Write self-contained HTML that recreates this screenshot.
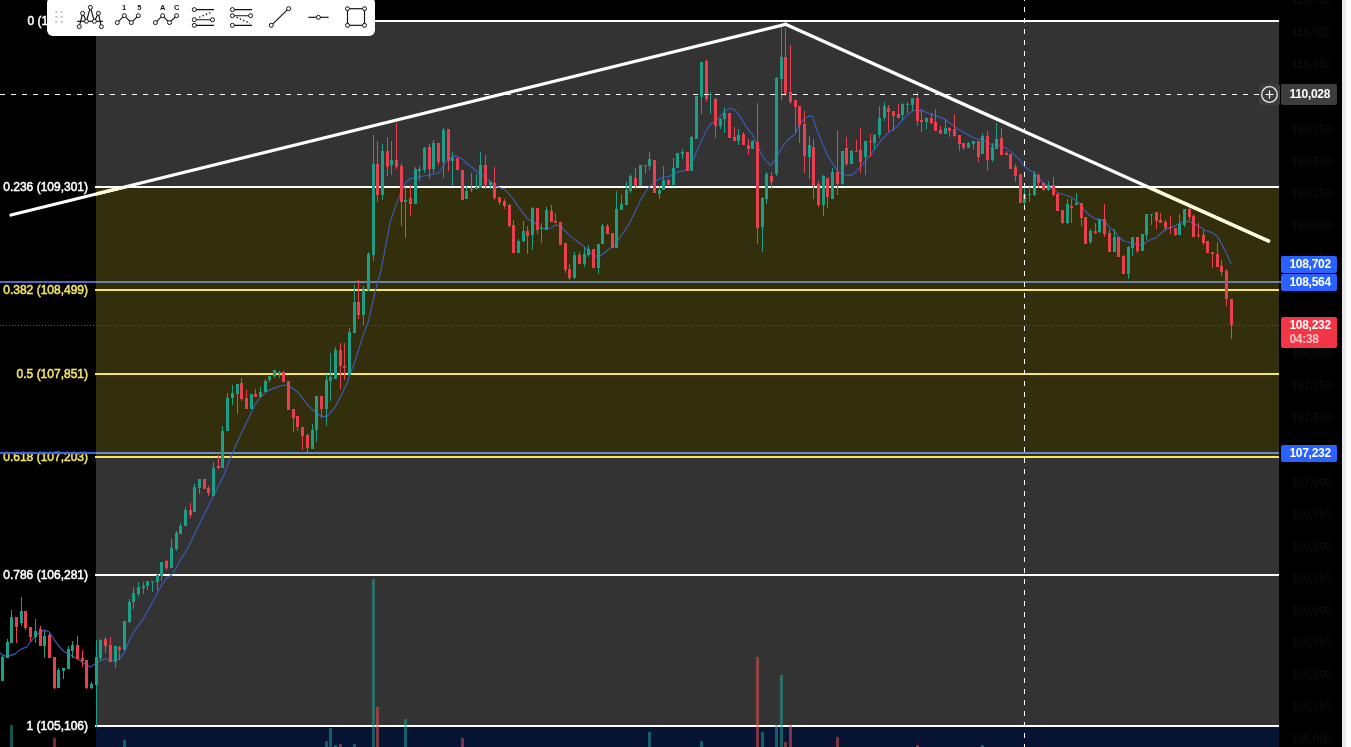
<!DOCTYPE html>
<html lang="en">
<head>
<meta charset="utf-8">
<title>Chart</title>
<style>
html,body{margin:0;padding:0;background:#fff;}
body{width:1351px;height:747px;overflow:hidden;position:relative;font-family:"Liberation Sans",sans-serif;}
#chart{position:absolute;left:0;top:0;width:1342px;height:747px;background:#000;overflow:hidden;}
#strip{position:absolute;left:1342px;top:0;width:4px;height:747px;background:#e9e9e9;}
.fill{position:absolute;left:96px;width:1183px;}
.ln{position:absolute;left:95px;width:1184px;height:2px;}
.lab{will-change:transform;position:absolute;left:0;width:88px;text-align:right;font-size:12px;line-height:14px;height:14px;color:#fff;white-space:nowrap;font-weight:400;-webkit-text-stroke:0.5px currentColor;}
.lab.y{color:#f5e663;-webkit-text-stroke:0.5px #f5e663;}
.ax{will-change:transform;position:absolute;left:1280px;width:63px;text-align:center;font-size:11px;line-height:14px;height:14px;color:#111;}
.pl{will-change:transform;position:absolute;left:1281px;width:56px;border-radius:2px;color:#fff;font-weight:700;font-size:12px;letter-spacing:-0.3px;box-sizing:border-box;padding-left:8.5px;}
#toolbar{position:absolute;left:47px;top:-3px;width:328px;height:38.6px;background:#fff;border-radius:6px;}
svg{position:absolute;left:0;top:0;}
</style>
</head>
<body>
<div id="chart">
  <!-- fib fills -->
  <div class="fill" style="top:21px;height:166px;background:#333333;"></div>
  <div class="fill" style="top:187px;height:270px;background:#332f0c;"></div>
  <div class="fill" style="top:457px;height:269px;background:#333333;"></div>
  <div class="fill" style="top:726px;height:21px;background:#081433;"></div>

  <!-- blue horizontal lines (under) -->
  <div style="position:absolute;left:0;top:281px;width:96px;height:2px;background:#5565c0;"></div>
  <div style="position:absolute;left:96px;top:281px;width:1185px;height:2px;background:#6d84a0;"></div>
  <div style="position:absolute;left:0;top:452px;width:96px;height:2px;background:#3c64eb;z-index:5;"></div>
  <div style="position:absolute;left:96px;top:452px;width:1183px;height:2px;background:#648cd7;"></div>

  <!-- fib lines -->
  <div class="ln" style="top:20px;background:#fff;"></div>
  <div class="ln" style="top:186px;background:#fff;"></div>
  <div class="ln" style="top:289px;background:#f7e75f;"></div>
  <div class="ln" style="top:373px;background:#f7e75f;"></div>
  <div class="ln" style="top:456px;background:#f7e75f;"></div>
  <div class="ln" style="top:574px;background:#fff;"></div>
  <div class="ln" style="top:725px;background:#fff;"></div>

  <svg width="1342" height="747" viewBox="0 0 1342 747" shape-rendering="crispEdges">
    <g id="vol">
<rect x="10" y="725.0" width="3" height="22.0" fill="rgba(38,166,154,0.5)"/>
<rect x="53" y="738.0" width="3" height="9.0" fill="rgba(239,83,80,0.5)"/>
<rect x="123" y="740.0" width="3" height="7.0" fill="rgba(38,166,154,0.5)"/>
<rect x="325" y="741.0" width="3" height="6.0" fill="rgba(38,166,154,0.5)"/>
<rect x="329" y="728.0" width="3" height="19.0" fill="rgba(38,166,154,0.5)"/>
<rect x="334" y="745.0" width="3" height="2.0" fill="rgba(38,166,154,0.5)"/>
<rect x="339" y="744.0" width="3" height="3.0" fill="rgba(239,83,80,0.5)"/>
<rect x="353" y="744.0" width="3" height="3.0" fill="rgba(38,166,154,0.5)"/>
<rect x="372" y="578.7" width="3" height="168.3" fill="rgba(38,166,154,0.5)"/>
<rect x="376" y="707.0" width="3" height="40.0" fill="rgba(239,83,80,0.5)"/>
<rect x="404" y="718.8" width="3" height="28.2" fill="rgba(38,166,154,0.5)"/>
<rect x="461" y="738.0" width="3" height="9.0" fill="rgba(239,83,80,0.5)"/>
<rect x="648" y="732.0" width="3" height="15.0" fill="rgba(38,166,154,0.5)"/>
<rect x="700" y="741.0" width="3" height="6.0" fill="rgba(38,166,154,0.5)"/>
<rect x="756" y="657.4" width="3" height="89.6" fill="rgba(239,83,80,0.5)"/>
<rect x="761" y="732.0" width="3" height="15.0" fill="rgba(38,166,154,0.5)"/>
<rect x="775" y="725.0" width="3" height="22.0" fill="rgba(38,166,154,0.5)"/>
<rect x="780" y="675.2" width="3" height="71.8" fill="rgba(38,166,154,0.5)"/>
<rect x="784" y="742.0" width="3" height="5.0" fill="rgba(239,83,80,0.5)"/>
<rect x="789" y="724.6" width="3" height="22.4" fill="rgba(239,83,80,0.5)"/>
<rect x="836" y="737.4" width="3" height="9.6" fill="rgba(239,83,80,0.5)"/>
<rect x="916" y="745.0" width="3" height="2.0" fill="rgba(239,83,80,0.5)"/>
<rect x="981" y="745.0" width="3" height="2.0" fill="rgba(38,166,154,0.5)"/>
    </g>
    <g shape-rendering="auto">
<path d="M0.0,652.6 L2.5,655.1 L7.4,656.6 L14.7,653.9 L21.5,648.9 L26.5,647.1 L30.5,642.0 L35.3,635.9 L40.2,632.0 L44.5,630.1 L49.3,632.0 L54.5,640.1 L58.6,646.0 L63.5,651.0 L68.5,654.1 L72.5,656.0 L77.5,658.9 L82.5,662.2 L86.5,665.1 L90.6,667.0 L96.5,662.9 L100.0,661.0 L101.4,660.3 L105.6,658.7 L110.4,660.3 L115.4,660.6 L119.4,658.7 L124.5,652.3 L129.4,640.2 L133.4,632.2 L138.4,625.7 L143.4,618.5 L147.4,611.3 L152.4,602.4 L157.3,592.8 L162.3,583.9 L166.5,578.3 L171.8,574.7 L176.3,567.5 L180.8,559.3 L185.5,552.1 L190.4,543.1 L194.4,534.0 L199.4,524.1 L204.3,514.1 L208.5,506.0 L224.2,474.6 L227.2,465.4 L232.3,453.7 L237.3,442.0 L241.3,433.6 L246.3,422.7 L251.3,412.7 L255.3,404.3 L260.4,397.2 L265.4,392.6 L269.4,390.1 L274.4,388.1 L279.1,386.5 L283.4,385.1 L288.0,385.3 L293.4,389.0 L298.3,392.7 L302.3,397.9 L307.3,404.5 L312.4,409.6 L316.4,413.0 L321.4,416.3 L326.4,416.3 L330.6,412.6 L335.4,406.7 L346.5,384.6 L349.5,376.2 L354.5,362.3 L358.5,350.0 L363.4,334.6 L368.5,320.8 L373.4,299.2 L377.2,283.8 L381.1,270.0 L385.9,244.6 L390.1,222.0 L396.5,203.6 L401.3,191.9 L405.5,182.7 L410.5,178.2 L415.4,178.5 L419.4,176.9 L424.4,175.7 L429.4,175.2 L434.4,174.0 L438.4,173.2 L443.4,166.0 L445.0,162.6 L448.3,160.1 L452.5,156.4 L457.5,156.4 L462.6,159.2 L466.4,163.4 L471.4,166.8 L476.4,171.0 L480.5,173.5 L485.5,177.6 L490.5,181.8 L494.5,185.2 L499.5,187.7 L504.4,189.3 L509.4,194.4 L513.4,199.4 L518.4,206.9 L523.4,213.6 L527.4,218.6 L532.5,222.0 L535.0,222.7 L537.5,226.0 L541.7,228.2 L546.4,228.9 L551.4,227.7 L555.4,224.9 L560.4,226.0 L565.4,231.1 L570.3,236.1 L574.5,239.4 L579.3,242.8 L584.3,246.9 L588.5,250.6 L593.5,255.3 L598.4,257.0 L602.4,254.5 L607.4,250.3 L612.4,246.9 L616.4,243.3 L621.5,235.2 L628.7,224.6 L635.4,211.2 L640.4,200.3 L645.4,192.0 L649.4,186.6 L654.4,181.9 L659.5,178.6 L663.5,177.3 L668.5,176.6 L673.5,174.4 L677.5,171.9 L682.5,171.1 L685.0,170.4 L691.7,163.7 L696.4,152.0 L701.4,141.1 L706.4,130.3 L710.4,124.4 L715.4,121.1 L720.5,116.1 L724.5,111.0 L729.5,108.5 L734.3,109.4 L738.5,114.4 L743.4,121.9 L748.3,130.0 L752.4,134.4 L757.4,145.9 L762.4,155.9 L766.4,161.8 L770.9,165.6 L774.3,160.9 L778.4,153.4 L784.3,144.2 L790.5,137.5 L795.2,134.2 L799.3,124.5 L804.4,118.6 L809.4,116.1 L812.7,116.6 L816.9,130.0 L822.8,144.2 L827.4,155.1 L832.5,163.4 L835.0,166.9 L837.5,171.1 L842.4,174.5 L846.4,175.3 L851.4,175.3 L856.4,171.1 L860.4,166.9 L865.4,161.1 L870.5,155.2 L874.5,149.4 L879.5,142.7 L884.3,136.8 L888.5,132.7 L893.4,129.3 L898.4,125.1 L902.4,120.1 L907.4,115.1 L912.4,110.9 L917.4,110.1 L921.5,110.4 L925.0,111.8 L931.4,114.3 L935.5,115.6 L940.6,117.6 L945.4,119.8 L949.6,123.1 L954.6,126.5 L959.6,130.2 L963.6,132.3 L968.5,135.2 L973.5,137.7 L978.5,139.3 L982.5,139.3 L987.5,142.4 L992.4,144.9 L996.6,145.5 L1001.6,146.0 L1006.4,148.2 L1010.6,151.1 L1015.5,156.1 L1020.0,160.0 L1024.5,166.7 L1029.5,170.0 L1034.6,173.4 L1038.6,178.4 L1043.4,182.6 L1048.4,186.8 L1053.5,189.3 L1057.6,192.6 L1062.5,194.3 L1067.5,195.5 L1071.5,197.6 L1076.5,201.0 L1081.6,205.2 L1085.6,211.8 L1090.6,216.0 L1095.6,218.9 L1099.6,219.4 L1104.5,221.0 L1109.5,227.6 L1114.5,231.0 L1118.4,236.5 L1123.4,241.0 L1128.4,242.2 L1132.4,243.5 L1137.4,244.8 L1142.5,245.2 L1146.5,241.8 L1151.5,239.3 L1156.5,237.6 L1160.5,233.5 L1165.5,229.3 L1170.6,227.6 L1174.6,225.9 L1179.4,223.4 L1184.4,221.4 L1189.4,221.4 L1193.5,223.4 L1198.5,225.9 L1204.6,230.0 L1213.1,233.1 L1217.7,236.9 L1221.5,243.8 L1226.2,253.1 L1231.2,263.8" fill="none" stroke="#3b5bba" stroke-width="1.15" stroke-linejoin="round"/>
    </g>
    <g id="candles">
<rect x="2" y="656.0" width="1" height="25.0" fill="#1f9e87"/>
<rect x="1" y="657.0" width="3" height="23.6" fill="#1f9e87"/>
<rect x="7" y="639.0" width="1" height="18.7" fill="#1f9e87"/>
<rect x="6" y="641.5" width="3" height="16.2" fill="#1f9e87"/>
<rect x="11" y="609.9" width="1" height="32.7" fill="#1f9e87"/>
<rect x="10" y="617.0" width="3" height="25.6" fill="#1f9e87"/>
<rect x="16" y="617.0" width="1" height="25.6" fill="#ea3f4e"/>
<rect x="15" y="617.0" width="3" height="10.3" fill="#ea3f4e"/>
<rect x="21" y="596.9" width="1" height="28.9" fill="#1f9e87"/>
<rect x="20" y="611.1" width="3" height="11.6" fill="#1f9e87"/>
<rect x="25" y="611.1" width="1" height="18.7" fill="#ea3f4e"/>
<rect x="24" y="611.1" width="3" height="16.7" fill="#ea3f4e"/>
<rect x="30" y="627.1" width="1" height="14.4" fill="#ea3f4e"/>
<rect x="29" y="627.1" width="3" height="9.7" fill="#ea3f4e"/>
<rect x="35" y="619.0" width="1" height="23.7" fill="#1f9e87"/>
<rect x="34" y="631.2" width="3" height="5.6" fill="#1f9e87"/>
<rect x="40" y="626.1" width="1" height="19.6" fill="#ea3f4e"/>
<rect x="39" y="629.0" width="3" height="16.7" fill="#ea3f4e"/>
<rect x="44" y="630.5" width="1" height="27.2" fill="#1f9e87"/>
<rect x="43" y="636.1" width="3" height="9.9" fill="#1f9e87"/>
<rect x="49" y="632.7" width="1" height="25.0" fill="#ea3f4e"/>
<rect x="48" y="634.9" width="3" height="22.8" fill="#ea3f4e"/>
<rect x="54" y="657.0" width="1" height="31.7" fill="#ea3f4e"/>
<rect x="53" y="657.0" width="3" height="30.9" fill="#ea3f4e"/>
<rect x="58" y="668.1" width="1" height="19.5" fill="#1f9e87"/>
<rect x="57" y="670.0" width="3" height="17.6" fill="#1f9e87"/>
<rect x="63" y="668.1" width="1" height="10.7" fill="#1f9e87"/>
<rect x="62" y="668.1" width="3" height="2.9" fill="#1f9e87"/>
<rect x="68" y="646.0" width="1" height="22.8" fill="#1f9e87"/>
<rect x="67" y="649.2" width="3" height="19.6" fill="#1f9e87"/>
<rect x="72" y="641.1" width="1" height="16.6" fill="#1f9e87"/>
<rect x="71" y="644.9" width="3" height="5.8" fill="#1f9e87"/>
<rect x="77" y="636.1" width="1" height="22.4" fill="#ea3f4e"/>
<rect x="76" y="644.9" width="3" height="13.6" fill="#ea3f4e"/>
<rect x="82" y="649.9" width="1" height="16.7" fill="#ea3f4e"/>
<rect x="81" y="658.0" width="3" height="2.7" fill="#ea3f4e"/>
<rect x="86" y="660.0" width="1" height="28.7" fill="#ea3f4e"/>
<rect x="85" y="660.0" width="3" height="28.4" fill="#ea3f4e"/>
<rect x="91" y="682.0" width="1" height="7.0" fill="#1f9e87"/>
<rect x="90" y="684.3" width="3" height="4.1" fill="#1f9e87"/>
<rect x="96" y="640.1" width="1" height="86.9" fill="#1f9e87"/>
<rect x="95" y="657.0" width="3" height="27.7" fill="#1f9e87"/>
<rect x="100" y="639.4" width="1" height="21.7" fill="#1f9e87"/>
<rect x="99" y="640.2" width="3" height="17.7" fill="#1f9e87"/>
<rect x="105" y="636.7" width="1" height="16.4" fill="#ea3f4e"/>
<rect x="104" y="638.6" width="3" height="7.2" fill="#ea3f4e"/>
<rect x="110" y="637.0" width="1" height="24.9" fill="#ea3f4e"/>
<rect x="109" y="645.4" width="3" height="16.5" fill="#ea3f4e"/>
<rect x="115" y="646.3" width="1" height="21.7" fill="#1f9e87"/>
<rect x="114" y="646.3" width="3" height="15.3" fill="#1f9e87"/>
<rect x="119" y="645.8" width="1" height="13.7" fill="#ea3f4e"/>
<rect x="118" y="647.0" width="3" height="2.9" fill="#ea3f4e"/>
<rect x="124" y="620.9" width="1" height="29.0" fill="#1f9e87"/>
<rect x="123" y="620.9" width="3" height="29.0" fill="#1f9e87"/>
<rect x="129" y="598.7" width="1" height="24.6" fill="#1f9e87"/>
<rect x="128" y="601.6" width="3" height="20.6" fill="#1f9e87"/>
<rect x="133" y="587.2" width="1" height="21.7" fill="#1f9e87"/>
<rect x="132" y="592.8" width="3" height="9.1" fill="#1f9e87"/>
<rect x="138" y="582.0" width="1" height="15.1" fill="#1f9e87"/>
<rect x="137" y="587.2" width="3" height="6.9" fill="#1f9e87"/>
<rect x="143" y="582.0" width="1" height="12.1" fill="#1f9e87"/>
<rect x="142" y="586.0" width="3" height="2.0" fill="#1f9e87"/>
<rect x="147" y="580.7" width="1" height="8.9" fill="#1f9e87"/>
<rect x="146" y="581.2" width="3" height="4.8" fill="#1f9e87"/>
<rect x="152" y="580.7" width="1" height="11.0" fill="#1f9e87"/>
<rect x="151" y="581.2" width="3" height="1.1" fill="#1f9e87"/>
<rect x="157" y="574.0" width="1" height="15.6" fill="#1f9e87"/>
<rect x="156" y="574.6" width="3" height="7.7" fill="#1f9e87"/>
<rect x="161" y="562.1" width="1" height="18.9" fill="#1f9e87"/>
<rect x="160" y="562.1" width="3" height="13.5" fill="#1f9e87"/>
<rect x="166" y="560.3" width="1" height="9.5" fill="#ea3f4e"/>
<rect x="165" y="561.2" width="3" height="6.3" fill="#ea3f4e"/>
<rect x="171" y="539.1" width="1" height="28.4" fill="#1f9e87"/>
<rect x="170" y="548.1" width="3" height="19.4" fill="#1f9e87"/>
<rect x="176" y="531.0" width="1" height="19.7" fill="#1f9e87"/>
<rect x="175" y="533.1" width="3" height="15.4" fill="#1f9e87"/>
<rect x="180" y="523.2" width="1" height="10.5" fill="#1f9e87"/>
<rect x="179" y="525.5" width="3" height="8.2" fill="#1f9e87"/>
<rect x="185" y="506.5" width="1" height="19.0" fill="#1f9e87"/>
<rect x="184" y="509.6" width="3" height="15.9" fill="#1f9e87"/>
<rect x="190" y="503.3" width="1" height="14.5" fill="#ea3f4e"/>
<rect x="189" y="509.6" width="3" height="5.4" fill="#ea3f4e"/>
<rect x="194" y="483.9" width="1" height="27.9" fill="#1f9e87"/>
<rect x="193" y="486.7" width="3" height="25.1" fill="#1f9e87"/>
<rect x="199" y="478.9" width="1" height="15.3" fill="#1f9e87"/>
<rect x="198" y="478.9" width="3" height="9.0" fill="#1f9e87"/>
<rect x="204" y="478.9" width="1" height="10.5" fill="#ea3f4e"/>
<rect x="203" y="478.9" width="3" height="10.5" fill="#ea3f4e"/>
<rect x="208" y="486.1" width="1" height="10.3" fill="#ea3f4e"/>
<rect x="207" y="487.6" width="3" height="5.2" fill="#ea3f4e"/>
<rect x="213" y="462.0" width="1" height="33.7" fill="#1f9e87"/>
<rect x="212" y="467.6" width="3" height="28.1" fill="#1f9e87"/>
<rect x="218" y="455.0" width="1" height="13.7" fill="#ea3f4e"/>
<rect x="217" y="466.2" width="3" height="1.7" fill="#ea3f4e"/>
<rect x="222" y="426.1" width="1" height="41.8" fill="#1f9e87"/>
<rect x="221" y="430.8" width="3" height="37.1" fill="#1f9e87"/>
<rect x="227" y="393.0" width="1" height="37.8" fill="#1f9e87"/>
<rect x="226" y="397.7" width="3" height="33.1" fill="#1f9e87"/>
<rect x="232" y="384.8" width="1" height="19.9" fill="#1f9e87"/>
<rect x="231" y="393.0" width="3" height="5.0" fill="#1f9e87"/>
<rect x="237" y="383.9" width="1" height="29.6" fill="#1f9e87"/>
<rect x="236" y="383.9" width="3" height="9.9" fill="#1f9e87"/>
<rect x="241" y="378.1" width="1" height="22.6" fill="#ea3f4e"/>
<rect x="240" y="383.4" width="3" height="15.9" fill="#ea3f4e"/>
<rect x="246" y="390.1" width="1" height="18.4" fill="#ea3f4e"/>
<rect x="245" y="398.0" width="3" height="10.5" fill="#ea3f4e"/>
<rect x="251" y="394.0" width="1" height="14.5" fill="#1f9e87"/>
<rect x="250" y="394.0" width="3" height="14.5" fill="#1f9e87"/>
<rect x="255" y="389.0" width="1" height="7.8" fill="#ea3f4e"/>
<rect x="254" y="394.0" width="3" height="2.8" fill="#ea3f4e"/>
<rect x="260" y="387.3" width="1" height="9.5" fill="#1f9e87"/>
<rect x="259" y="391.8" width="3" height="5.0" fill="#1f9e87"/>
<rect x="265" y="378.8" width="1" height="13.0" fill="#1f9e87"/>
<rect x="264" y="381.4" width="3" height="10.4" fill="#1f9e87"/>
<rect x="269" y="376.3" width="1" height="5.5" fill="#1f9e87"/>
<rect x="268" y="376.3" width="3" height="3.8" fill="#1f9e87"/>
<rect x="274" y="370.1" width="1" height="8.3" fill="#1f9e87"/>
<rect x="273" y="370.1" width="3" height="5.8" fill="#1f9e87"/>
<rect x="279" y="370.9" width="1" height="6.7" fill="#1f9e87"/>
<rect x="278" y="372.2" width="3" height="2.0" fill="#1f9e87"/>
<rect x="283" y="371.4" width="1" height="10.9" fill="#ea3f4e"/>
<rect x="282" y="372.2" width="3" height="10.1" fill="#ea3f4e"/>
<rect x="288" y="380.9" width="1" height="28.7" fill="#ea3f4e"/>
<rect x="287" y="380.9" width="3" height="28.7" fill="#ea3f4e"/>
<rect x="293" y="408.9" width="1" height="22.8" fill="#ea3f4e"/>
<rect x="292" y="408.9" width="3" height="8.8" fill="#ea3f4e"/>
<rect x="297" y="416.3" width="1" height="14.4" fill="#ea3f4e"/>
<rect x="296" y="416.3" width="3" height="10.3" fill="#ea3f4e"/>
<rect x="302" y="426.9" width="1" height="23.2" fill="#ea3f4e"/>
<rect x="301" y="426.9" width="3" height="9.0" fill="#ea3f4e"/>
<rect x="307" y="433.9" width="1" height="17.7" fill="#ea3f4e"/>
<rect x="306" y="434.7" width="3" height="13.2" fill="#ea3f4e"/>
<rect x="312" y="424.4" width="1" height="24.3" fill="#1f9e87"/>
<rect x="311" y="429.5" width="3" height="19.2" fill="#1f9e87"/>
<rect x="316" y="396.4" width="1" height="45.6" fill="#1f9e87"/>
<rect x="315" y="396.4" width="3" height="33.9" fill="#1f9e87"/>
<rect x="321" y="396.4" width="1" height="21.3" fill="#ea3f4e"/>
<rect x="320" y="396.4" width="3" height="12.5" fill="#ea3f4e"/>
<rect x="326" y="374.3" width="1" height="51.5" fill="#1f9e87"/>
<rect x="325" y="380.2" width="3" height="28.7" fill="#1f9e87"/>
<rect x="330" y="353.1" width="1" height="47.7" fill="#1f9e87"/>
<rect x="329" y="376.9" width="3" height="3.9" fill="#1f9e87"/>
<rect x="335" y="346.9" width="1" height="32.3" fill="#1f9e87"/>
<rect x="334" y="349.7" width="3" height="29.5" fill="#1f9e87"/>
<rect x="340" y="343.1" width="1" height="45.5" fill="#ea3f4e"/>
<rect x="339" y="349.7" width="3" height="16.0" fill="#ea3f4e"/>
<rect x="344" y="343.1" width="1" height="36.9" fill="#ea3f4e"/>
<rect x="343" y="365.7" width="3" height="2.3" fill="#ea3f4e"/>
<rect x="349" y="328.2" width="1" height="46.4" fill="#1f9e87"/>
<rect x="348" y="331.5" width="3" height="43.1" fill="#1f9e87"/>
<rect x="354" y="284.9" width="1" height="47.9" fill="#1f9e87"/>
<rect x="353" y="301.5" width="3" height="31.3" fill="#1f9e87"/>
<rect x="358" y="280.0" width="1" height="38.9" fill="#ea3f4e"/>
<rect x="357" y="301.8" width="3" height="13.1" fill="#ea3f4e"/>
<rect x="363" y="285.8" width="1" height="39.3" fill="#1f9e87"/>
<rect x="362" y="290.0" width="3" height="24.9" fill="#1f9e87"/>
<rect x="368" y="251.9" width="1" height="39.5" fill="#1f9e87"/>
<rect x="367" y="253.5" width="3" height="36.3" fill="#1f9e87"/>
<rect x="373" y="135.1" width="1" height="125.4" fill="#1f9e87"/>
<rect x="372" y="163.8" width="3" height="90.8" fill="#1f9e87"/>
<rect x="377" y="140.9" width="1" height="61.0" fill="#ea3f4e"/>
<rect x="376" y="163.8" width="3" height="30.9" fill="#ea3f4e"/>
<rect x="382" y="144.2" width="1" height="55.7" fill="#1f9e87"/>
<rect x="381" y="150.9" width="3" height="43.8" fill="#1f9e87"/>
<rect x="387" y="136.7" width="1" height="39.3" fill="#ea3f4e"/>
<rect x="386" y="150.9" width="3" height="15.9" fill="#ea3f4e"/>
<rect x="391" y="140.9" width="1" height="33.9" fill="#1f9e87"/>
<rect x="390" y="159.8" width="3" height="5.0" fill="#1f9e87"/>
<rect x="396" y="122.5" width="1" height="46.3" fill="#ea3f4e"/>
<rect x="395" y="159.8" width="3" height="7.0" fill="#ea3f4e"/>
<rect x="401" y="162.6" width="1" height="63.1" fill="#ea3f4e"/>
<rect x="400" y="166.0" width="3" height="35.9" fill="#ea3f4e"/>
<rect x="405" y="186.9" width="1" height="51.0" fill="#1f9e87"/>
<rect x="404" y="199.9" width="3" height="2.0" fill="#1f9e87"/>
<rect x="410" y="185.2" width="1" height="30.5" fill="#ea3f4e"/>
<rect x="409" y="197.8" width="3" height="5.8" fill="#ea3f4e"/>
<rect x="415" y="167.2" width="1" height="36.4" fill="#1f9e87"/>
<rect x="414" y="169.3" width="3" height="34.3" fill="#1f9e87"/>
<rect x="419" y="166.0" width="1" height="14.5" fill="#1f9e87"/>
<rect x="418" y="168.5" width="3" height="2.0" fill="#1f9e87"/>
<rect x="424" y="146.8" width="1" height="25.9" fill="#1f9e87"/>
<rect x="423" y="147.6" width="3" height="22.2" fill="#1f9e87"/>
<rect x="429" y="143.9" width="1" height="34.6" fill="#ea3f4e"/>
<rect x="428" y="146.8" width="3" height="22.0" fill="#ea3f4e"/>
<rect x="433" y="140.4" width="1" height="32.8" fill="#1f9e87"/>
<rect x="432" y="142.6" width="3" height="25.9" fill="#1f9e87"/>
<rect x="438" y="142.9" width="1" height="21.9" fill="#ea3f4e"/>
<rect x="437" y="142.9" width="3" height="18.9" fill="#ea3f4e"/>
<rect x="443" y="127.5" width="1" height="50.2" fill="#1f9e87"/>
<rect x="442" y="129.7" width="3" height="32.1" fill="#1f9e87"/>
<rect x="448" y="144.2" width="1" height="26.8" fill="#ea3f4e"/>
<rect x="447" y="129.1" width="3" height="31.8" fill="#ea3f4e"/>
<rect x="452" y="151.7" width="1" height="34.3" fill="#1f9e87"/>
<rect x="451" y="157.9" width="3" height="2.7" fill="#1f9e87"/>
<rect x="457" y="158.1" width="1" height="11.7" fill="#ea3f4e"/>
<rect x="456" y="158.1" width="3" height="11.7" fill="#ea3f4e"/>
<rect x="462" y="169.8" width="1" height="30.1" fill="#ea3f4e"/>
<rect x="461" y="169.8" width="3" height="30.1" fill="#ea3f4e"/>
<rect x="466" y="186.0" width="1" height="13.4" fill="#1f9e87"/>
<rect x="465" y="191.0" width="3" height="8.4" fill="#1f9e87"/>
<rect x="471" y="173.1" width="1" height="18.8" fill="#1f9e87"/>
<rect x="470" y="188.5" width="3" height="1.3" fill="#1f9e87"/>
<rect x="476" y="173.8" width="1" height="15.5" fill="#1f9e87"/>
<rect x="475" y="187.3" width="3" height="2.0" fill="#1f9e87"/>
<rect x="480" y="151.7" width="1" height="36.0" fill="#1f9e87"/>
<rect x="479" y="165.1" width="3" height="22.6" fill="#1f9e87"/>
<rect x="485" y="154.7" width="1" height="33.8" fill="#ea3f4e"/>
<rect x="484" y="165.1" width="3" height="19.7" fill="#ea3f4e"/>
<rect x="490" y="181.0" width="1" height="8.3" fill="#1f9e87"/>
<rect x="489" y="181.8" width="3" height="3.0" fill="#1f9e87"/>
<rect x="494" y="167.1" width="1" height="32.8" fill="#ea3f4e"/>
<rect x="493" y="183.2" width="3" height="15.0" fill="#ea3f4e"/>
<rect x="499" y="196.5" width="1" height="8.4" fill="#ea3f4e"/>
<rect x="498" y="197.2" width="3" height="5.0" fill="#ea3f4e"/>
<rect x="504" y="199.0" width="1" height="9.6" fill="#ea3f4e"/>
<rect x="503" y="201.1" width="3" height="5.0" fill="#ea3f4e"/>
<rect x="509" y="204.1" width="1" height="22.9" fill="#ea3f4e"/>
<rect x="508" y="204.9" width="3" height="21.2" fill="#ea3f4e"/>
<rect x="513" y="220.3" width="1" height="32.6" fill="#ea3f4e"/>
<rect x="512" y="225.0" width="3" height="27.9" fill="#ea3f4e"/>
<rect x="518" y="238.7" width="1" height="14.2" fill="#1f9e87"/>
<rect x="517" y="240.7" width="3" height="12.2" fill="#1f9e87"/>
<rect x="523" y="221.1" width="1" height="20.9" fill="#1f9e87"/>
<rect x="522" y="231.2" width="3" height="10.0" fill="#1f9e87"/>
<rect x="527" y="226.1" width="1" height="27.6" fill="#ea3f4e"/>
<rect x="526" y="231.2" width="3" height="4.6" fill="#ea3f4e"/>
<rect x="532" y="206.9" width="1" height="42.6" fill="#1f9e87"/>
<rect x="531" y="207.7" width="3" height="27.6" fill="#1f9e87"/>
<rect x="537" y="208.1" width="1" height="25.5" fill="#ea3f4e"/>
<rect x="536" y="208.1" width="3" height="22.1" fill="#ea3f4e"/>
<rect x="541" y="222.7" width="1" height="20.1" fill="#1f9e87"/>
<rect x="540" y="227.7" width="3" height="1.7" fill="#1f9e87"/>
<rect x="546" y="206.8" width="1" height="23.1" fill="#1f9e87"/>
<rect x="545" y="209.8" width="3" height="20.1" fill="#1f9e87"/>
<rect x="551" y="205.1" width="1" height="16.8" fill="#ea3f4e"/>
<rect x="550" y="211.0" width="3" height="10.9" fill="#ea3f4e"/>
<rect x="555" y="212.7" width="1" height="10.0" fill="#ea3f4e"/>
<rect x="554" y="221.0" width="3" height="1.7" fill="#ea3f4e"/>
<rect x="560" y="221.9" width="1" height="23.0" fill="#ea3f4e"/>
<rect x="559" y="221.9" width="3" height="23.0" fill="#ea3f4e"/>
<rect x="565" y="243.3" width="1" height="29.6" fill="#ea3f4e"/>
<rect x="564" y="243.3" width="3" height="27.1" fill="#ea3f4e"/>
<rect x="569" y="263.7" width="1" height="15.8" fill="#ea3f4e"/>
<rect x="568" y="268.7" width="3" height="9.7" fill="#ea3f4e"/>
<rect x="574" y="252.0" width="1" height="26.7" fill="#1f9e87"/>
<rect x="573" y="254.5" width="3" height="23.9" fill="#1f9e87"/>
<rect x="579" y="252.0" width="1" height="11.7" fill="#ea3f4e"/>
<rect x="578" y="254.5" width="3" height="9.2" fill="#ea3f4e"/>
<rect x="584" y="246.9" width="1" height="19.8" fill="#1f9e87"/>
<rect x="583" y="254.0" width="3" height="9.7" fill="#1f9e87"/>
<rect x="588" y="244.9" width="1" height="11.7" fill="#1f9e87"/>
<rect x="587" y="248.6" width="3" height="5.9" fill="#1f9e87"/>
<rect x="593" y="248.6" width="1" height="19.2" fill="#ea3f4e"/>
<rect x="592" y="248.6" width="3" height="19.2" fill="#ea3f4e"/>
<rect x="598" y="244.1" width="1" height="29.6" fill="#1f9e87"/>
<rect x="597" y="244.1" width="3" height="23.7" fill="#1f9e87"/>
<rect x="602" y="223.9" width="1" height="19.7" fill="#1f9e87"/>
<rect x="601" y="225.5" width="3" height="18.1" fill="#1f9e87"/>
<rect x="607" y="223.9" width="1" height="9.7" fill="#ea3f4e"/>
<rect x="606" y="225.5" width="3" height="8.1" fill="#ea3f4e"/>
<rect x="612" y="232.7" width="1" height="15.1" fill="#ea3f4e"/>
<rect x="611" y="232.7" width="3" height="15.1" fill="#ea3f4e"/>
<rect x="616" y="190.9" width="1" height="56.9" fill="#1f9e87"/>
<rect x="615" y="208.5" width="3" height="39.3" fill="#1f9e87"/>
<rect x="621" y="194.3" width="1" height="15.5" fill="#1f9e87"/>
<rect x="620" y="203.8" width="3" height="6.0" fill="#1f9e87"/>
<rect x="626" y="181.9" width="1" height="23.1" fill="#1f9e87"/>
<rect x="625" y="190.0" width="3" height="15.0" fill="#1f9e87"/>
<rect x="630" y="174.4" width="1" height="18.4" fill="#1f9e87"/>
<rect x="629" y="175.8" width="3" height="15.3" fill="#1f9e87"/>
<rect x="635" y="167.7" width="1" height="20.9" fill="#ea3f4e"/>
<rect x="634" y="177.8" width="3" height="8.3" fill="#ea3f4e"/>
<rect x="640" y="164.9" width="1" height="21.2" fill="#1f9e87"/>
<rect x="639" y="164.9" width="3" height="21.2" fill="#1f9e87"/>
<rect x="645" y="164.9" width="1" height="9.5" fill="#1f9e87"/>
<rect x="644" y="164.9" width="3" height="1.0" fill="#1f9e87"/>
<rect x="649" y="152.2" width="1" height="18.0" fill="#1f9e87"/>
<rect x="648" y="159.0" width="3" height="6.7" fill="#1f9e87"/>
<rect x="654" y="160.2" width="1" height="32.6" fill="#ea3f4e"/>
<rect x="653" y="160.2" width="3" height="32.6" fill="#ea3f4e"/>
<rect x="659" y="186.1" width="1" height="12.6" fill="#1f9e87"/>
<rect x="658" y="190.0" width="3" height="3.6" fill="#1f9e87"/>
<rect x="663" y="166.1" width="1" height="23.7" fill="#1f9e87"/>
<rect x="662" y="179.9" width="3" height="9.9" fill="#1f9e87"/>
<rect x="668" y="178.9" width="1" height="6.0" fill="#ea3f4e"/>
<rect x="667" y="179.9" width="3" height="5.0" fill="#ea3f4e"/>
<rect x="673" y="157.7" width="1" height="27.2" fill="#1f9e87"/>
<rect x="672" y="167.7" width="3" height="17.2" fill="#1f9e87"/>
<rect x="677" y="153.2" width="1" height="15.0" fill="#1f9e87"/>
<rect x="676" y="153.2" width="3" height="15.0" fill="#1f9e87"/>
<rect x="682" y="149.0" width="1" height="9.5" fill="#1f9e87"/>
<rect x="681" y="151.8" width="3" height="2.0" fill="#1f9e87"/>
<rect x="687" y="152.0" width="1" height="19.2" fill="#ea3f4e"/>
<rect x="686" y="152.0" width="3" height="19.2" fill="#ea3f4e"/>
<rect x="691" y="136.1" width="1" height="35.1" fill="#1f9e87"/>
<rect x="690" y="137.0" width="3" height="34.2" fill="#1f9e87"/>
<rect x="696" y="96.0" width="1" height="42.6" fill="#1f9e87"/>
<rect x="695" y="96.0" width="3" height="42.6" fill="#1f9e87"/>
<rect x="701" y="61.7" width="1" height="51.8" fill="#1f9e87"/>
<rect x="700" y="61.7" width="3" height="35.1" fill="#1f9e87"/>
<rect x="706" y="59.7" width="1" height="42.1" fill="#ea3f4e"/>
<rect x="705" y="60.9" width="3" height="38.4" fill="#ea3f4e"/>
<rect x="710" y="91.8" width="1" height="21.7" fill="#1f9e87"/>
<rect x="709" y="94.3" width="3" height="1.0" fill="#1f9e87"/>
<rect x="715" y="97.7" width="1" height="40.1" fill="#ea3f4e"/>
<rect x="714" y="98.5" width="3" height="27.6" fill="#ea3f4e"/>
<rect x="720" y="117.7" width="1" height="10.9" fill="#1f9e87"/>
<rect x="719" y="118.6" width="3" height="7.5" fill="#1f9e87"/>
<rect x="724" y="106.9" width="1" height="25.9" fill="#1f9e87"/>
<rect x="723" y="112.7" width="3" height="6.7" fill="#1f9e87"/>
<rect x="729" y="112.7" width="1" height="25.1" fill="#ea3f4e"/>
<rect x="728" y="112.7" width="3" height="25.1" fill="#ea3f4e"/>
<rect x="734" y="126.9" width="1" height="13.9" fill="#ea3f4e"/>
<rect x="733" y="136.6" width="3" height="4.2" fill="#ea3f4e"/>
<rect x="738" y="129.4" width="1" height="15.6" fill="#1f9e87"/>
<rect x="737" y="134.9" width="3" height="5.9" fill="#1f9e87"/>
<rect x="743" y="131.9" width="1" height="13.1" fill="#ea3f4e"/>
<rect x="742" y="134.4" width="3" height="10.6" fill="#ea3f4e"/>
<rect x="748" y="139.2" width="1" height="15.9" fill="#ea3f4e"/>
<rect x="747" y="144.7" width="3" height="4.5" fill="#ea3f4e"/>
<rect x="752" y="139.7" width="1" height="9.0" fill="#1f9e87"/>
<rect x="751" y="141.4" width="3" height="7.3" fill="#1f9e87"/>
<rect x="757" y="102.7" width="1" height="141.0" fill="#ea3f4e"/>
<rect x="756" y="142.0" width="3" height="85.8" fill="#ea3f4e"/>
<rect x="762" y="196.9" width="1" height="54.8" fill="#1f9e87"/>
<rect x="761" y="198.2" width="3" height="28.8" fill="#1f9e87"/>
<rect x="766" y="171.8" width="1" height="31.8" fill="#1f9e87"/>
<rect x="765" y="173.5" width="3" height="25.9" fill="#1f9e87"/>
<rect x="771" y="171.8" width="1" height="16.7" fill="#ea3f4e"/>
<rect x="770" y="176.0" width="3" height="5.8" fill="#ea3f4e"/>
<rect x="776" y="76.8" width="1" height="99.2" fill="#1f9e87"/>
<rect x="775" y="78.2" width="3" height="95.6" fill="#1f9e87"/>
<rect x="781" y="25.8" width="1" height="74.4" fill="#1f9e87"/>
<rect x="780" y="57.1" width="3" height="21.4" fill="#1f9e87"/>
<rect x="785" y="27.5" width="1" height="68.6" fill="#ea3f4e"/>
<rect x="784" y="57.1" width="3" height="37.3" fill="#ea3f4e"/>
<rect x="790" y="45.1" width="1" height="58.5" fill="#ea3f4e"/>
<rect x="789" y="92.2" width="3" height="9.7" fill="#ea3f4e"/>
<rect x="795" y="99.6" width="1" height="32.4" fill="#ea3f4e"/>
<rect x="794" y="100.2" width="3" height="6.4" fill="#ea3f4e"/>
<rect x="799" y="106.1" width="1" height="37.3" fill="#ea3f4e"/>
<rect x="798" y="106.1" width="3" height="18.4" fill="#ea3f4e"/>
<rect x="804" y="111.1" width="1" height="61.5" fill="#ea3f4e"/>
<rect x="803" y="123.6" width="3" height="32.8" fill="#ea3f4e"/>
<rect x="809" y="135.9" width="1" height="42.9" fill="#1f9e87"/>
<rect x="808" y="145.1" width="3" height="11.7" fill="#1f9e87"/>
<rect x="813" y="139.2" width="1" height="59.4" fill="#ea3f4e"/>
<rect x="812" y="146.7" width="3" height="39.3" fill="#ea3f4e"/>
<rect x="818" y="181.0" width="1" height="25.9" fill="#ea3f4e"/>
<rect x="817" y="184.3" width="3" height="20.6" fill="#ea3f4e"/>
<rect x="823" y="174.8" width="1" height="40.8" fill="#1f9e87"/>
<rect x="822" y="176.0" width="3" height="28.9" fill="#1f9e87"/>
<rect x="827" y="178.2" width="1" height="29.6" fill="#ea3f4e"/>
<rect x="826" y="178.2" width="3" height="18.4" fill="#ea3f4e"/>
<rect x="832" y="167.6" width="1" height="31.0" fill="#1f9e87"/>
<rect x="831" y="171.8" width="3" height="26.8" fill="#1f9e87"/>
<rect x="837" y="129.8" width="1" height="65.6" fill="#ea3f4e"/>
<rect x="836" y="172.0" width="3" height="11.7" fill="#ea3f4e"/>
<rect x="842" y="151.1" width="1" height="34.2" fill="#1f9e87"/>
<rect x="841" y="151.1" width="3" height="32.6" fill="#1f9e87"/>
<rect x="846" y="136.8" width="1" height="29.3" fill="#ea3f4e"/>
<rect x="845" y="148.2" width="3" height="15.4" fill="#ea3f4e"/>
<rect x="851" y="149.9" width="1" height="13.7" fill="#1f9e87"/>
<rect x="850" y="150.7" width="3" height="12.9" fill="#1f9e87"/>
<rect x="856" y="139.8" width="1" height="12.1" fill="#ea3f4e"/>
<rect x="855" y="151.1" width="3" height="1.0" fill="#ea3f4e"/>
<rect x="860" y="128.1" width="1" height="44.7" fill="#ea3f4e"/>
<rect x="859" y="150.2" width="3" height="11.4" fill="#ea3f4e"/>
<rect x="865" y="141.0" width="1" height="33.5" fill="#1f9e87"/>
<rect x="864" y="141.0" width="3" height="15.6" fill="#1f9e87"/>
<rect x="870" y="134.3" width="1" height="22.6" fill="#ea3f4e"/>
<rect x="869" y="141.0" width="3" height="1.2" fill="#ea3f4e"/>
<rect x="874" y="133.5" width="1" height="15.9" fill="#1f9e87"/>
<rect x="873" y="134.7" width="3" height="8.0" fill="#1f9e87"/>
<rect x="879" y="105.9" width="1" height="31.8" fill="#1f9e87"/>
<rect x="878" y="118.1" width="3" height="16.7" fill="#1f9e87"/>
<rect x="884" y="101.7" width="1" height="19.3" fill="#1f9e87"/>
<rect x="883" y="105.9" width="3" height="12.5" fill="#1f9e87"/>
<rect x="888" y="105.1" width="1" height="26.7" fill="#ea3f4e"/>
<rect x="887" y="108.1" width="3" height="3.7" fill="#ea3f4e"/>
<rect x="893" y="110.9" width="1" height="20.1" fill="#ea3f4e"/>
<rect x="892" y="110.9" width="3" height="5.0" fill="#ea3f4e"/>
<rect x="898" y="104.2" width="1" height="13.4" fill="#ea3f4e"/>
<rect x="897" y="114.3" width="3" height="3.3" fill="#ea3f4e"/>
<rect x="902" y="103.1" width="1" height="17.0" fill="#1f9e87"/>
<rect x="901" y="104.2" width="3" height="10.9" fill="#1f9e87"/>
<rect x="907" y="101.7" width="1" height="10.9" fill="#1f9e87"/>
<rect x="906" y="104.2" width="3" height="1.0" fill="#1f9e87"/>
<rect x="912" y="97.5" width="1" height="13.4" fill="#1f9e87"/>
<rect x="911" y="98.0" width="3" height="7.1" fill="#1f9e87"/>
<rect x="917" y="92.0" width="1" height="34.0" fill="#ea3f4e"/>
<rect x="916" y="98.0" width="3" height="23.0" fill="#ea3f4e"/>
<rect x="921" y="109.2" width="1" height="22.6" fill="#ea3f4e"/>
<rect x="920" y="119.8" width="3" height="2.0" fill="#ea3f4e"/>
<rect x="926" y="117.6" width="1" height="11.2" fill="#1f9e87"/>
<rect x="925" y="118.4" width="3" height="3.7" fill="#1f9e87"/>
<rect x="931" y="113.4" width="1" height="10.4" fill="#ea3f4e"/>
<rect x="930" y="118.4" width="3" height="4.7" fill="#ea3f4e"/>
<rect x="935" y="108.9" width="1" height="22.1" fill="#ea3f4e"/>
<rect x="934" y="121.8" width="3" height="9.2" fill="#ea3f4e"/>
<rect x="940" y="126.0" width="1" height="7.8" fill="#ea3f4e"/>
<rect x="939" y="129.8" width="3" height="4.0" fill="#ea3f4e"/>
<rect x="945" y="119.3" width="1" height="14.5" fill="#1f9e87"/>
<rect x="944" y="127.6" width="3" height="6.2" fill="#1f9e87"/>
<rect x="949" y="126.8" width="1" height="10.0" fill="#ea3f4e"/>
<rect x="948" y="127.6" width="3" height="2.9" fill="#ea3f4e"/>
<rect x="954" y="113.8" width="1" height="23.0" fill="#ea3f4e"/>
<rect x="953" y="129.3" width="3" height="6.7" fill="#ea3f4e"/>
<rect x="959" y="134.8" width="1" height="16.3" fill="#ea3f4e"/>
<rect x="958" y="134.8" width="3" height="9.1" fill="#ea3f4e"/>
<rect x="963" y="142.7" width="1" height="7.5" fill="#ea3f4e"/>
<rect x="962" y="143.2" width="3" height="4.5" fill="#ea3f4e"/>
<rect x="968" y="141.9" width="1" height="5.8" fill="#1f9e87"/>
<rect x="967" y="142.7" width="3" height="5.0" fill="#1f9e87"/>
<rect x="973" y="141.0" width="1" height="9.2" fill="#1f9e87"/>
<rect x="972" y="141.0" width="3" height="2.9" fill="#1f9e87"/>
<rect x="978" y="141.0" width="1" height="20.9" fill="#ea3f4e"/>
<rect x="977" y="141.0" width="3" height="15.6" fill="#ea3f4e"/>
<rect x="982" y="132.7" width="1" height="21.2" fill="#1f9e87"/>
<rect x="981" y="136.0" width="3" height="17.9" fill="#1f9e87"/>
<rect x="987" y="131.0" width="1" height="40.1" fill="#ea3f4e"/>
<rect x="986" y="136.0" width="3" height="24.3" fill="#ea3f4e"/>
<rect x="992" y="142.7" width="1" height="19.2" fill="#1f9e87"/>
<rect x="991" y="146.5" width="3" height="13.4" fill="#1f9e87"/>
<rect x="996" y="123.1" width="1" height="25.8" fill="#1f9e87"/>
<rect x="995" y="138.8" width="3" height="10.1" fill="#1f9e87"/>
<rect x="1001" y="127.6" width="1" height="27.3" fill="#ea3f4e"/>
<rect x="1000" y="138.2" width="3" height="16.7" fill="#ea3f4e"/>
<rect x="1006" y="151.1" width="1" height="3.8" fill="#ea3f4e"/>
<rect x="1005" y="152.7" width="3" height="2.2" fill="#ea3f4e"/>
<rect x="1010" y="153.9" width="1" height="14.7" fill="#ea3f4e"/>
<rect x="1009" y="153.9" width="3" height="14.7" fill="#ea3f4e"/>
<rect x="1015" y="164.4" width="1" height="17.6" fill="#ea3f4e"/>
<rect x="1014" y="167.3" width="3" height="8.8" fill="#ea3f4e"/>
<rect x="1020" y="174.2" width="1" height="28.4" fill="#ea3f4e"/>
<rect x="1019" y="174.2" width="3" height="28.4" fill="#ea3f4e"/>
<rect x="1024" y="188.4" width="1" height="16.4" fill="#1f9e87"/>
<rect x="1023" y="194.3" width="3" height="8.8" fill="#1f9e87"/>
<rect x="1029" y="186.8" width="1" height="14.7" fill="#1f9e87"/>
<rect x="1028" y="193.9" width="3" height="1.2" fill="#1f9e87"/>
<rect x="1034" y="171.4" width="1" height="24.6" fill="#1f9e87"/>
<rect x="1033" y="174.2" width="3" height="20.6" fill="#1f9e87"/>
<rect x="1038" y="173.0" width="1" height="14.6" fill="#ea3f4e"/>
<rect x="1037" y="174.7" width="3" height="8.7" fill="#ea3f4e"/>
<rect x="1043" y="181.7" width="1" height="9.7" fill="#ea3f4e"/>
<rect x="1042" y="182.6" width="3" height="7.8" fill="#ea3f4e"/>
<rect x="1048" y="180.9" width="1" height="10.0" fill="#1f9e87"/>
<rect x="1047" y="185.1" width="3" height="4.7" fill="#1f9e87"/>
<rect x="1053" y="176.7" width="1" height="19.3" fill="#ea3f4e"/>
<rect x="1052" y="185.1" width="3" height="10.0" fill="#ea3f4e"/>
<rect x="1057" y="194.3" width="1" height="16.4" fill="#ea3f4e"/>
<rect x="1056" y="194.3" width="3" height="16.4" fill="#ea3f4e"/>
<rect x="1062" y="209.8" width="1" height="14.1" fill="#ea3f4e"/>
<rect x="1061" y="209.8" width="3" height="12.9" fill="#ea3f4e"/>
<rect x="1067" y="199.3" width="1" height="24.6" fill="#1f9e87"/>
<rect x="1066" y="204.3" width="3" height="18.4" fill="#1f9e87"/>
<rect x="1071" y="199.3" width="1" height="23.4" fill="#ea3f4e"/>
<rect x="1070" y="205.5" width="3" height="2.2" fill="#ea3f4e"/>
<rect x="1076" y="193.1" width="1" height="11.7" fill="#1f9e87"/>
<rect x="1075" y="202.6" width="3" height="2.2" fill="#1f9e87"/>
<rect x="1081" y="203.1" width="1" height="23.0" fill="#ea3f4e"/>
<rect x="1080" y="203.1" width="3" height="14.6" fill="#ea3f4e"/>
<rect x="1085" y="216.5" width="1" height="27.1" fill="#ea3f4e"/>
<rect x="1084" y="216.5" width="3" height="27.1" fill="#ea3f4e"/>
<rect x="1090" y="228.6" width="1" height="15.0" fill="#1f9e87"/>
<rect x="1089" y="231.1" width="3" height="10.8" fill="#1f9e87"/>
<rect x="1095" y="222.7" width="1" height="10.9" fill="#ea3f4e"/>
<rect x="1094" y="231.1" width="3" height="2.1" fill="#ea3f4e"/>
<rect x="1099" y="218.9" width="1" height="13.8" fill="#1f9e87"/>
<rect x="1098" y="218.9" width="3" height="13.3" fill="#1f9e87"/>
<rect x="1104" y="203.8" width="1" height="33.1" fill="#ea3f4e"/>
<rect x="1103" y="218.9" width="3" height="14.7" fill="#ea3f4e"/>
<rect x="1109" y="229.3" width="1" height="22.6" fill="#ea3f4e"/>
<rect x="1108" y="232.6" width="3" height="19.3" fill="#ea3f4e"/>
<rect x="1114" y="229.3" width="1" height="22.6" fill="#1f9e87"/>
<rect x="1113" y="236.8" width="3" height="15.1" fill="#1f9e87"/>
<rect x="1118" y="236.8" width="1" height="20.1" fill="#ea3f4e"/>
<rect x="1117" y="236.8" width="3" height="20.1" fill="#ea3f4e"/>
<rect x="1123" y="255.2" width="1" height="18.4" fill="#ea3f4e"/>
<rect x="1122" y="256.0" width="3" height="17.6" fill="#ea3f4e"/>
<rect x="1128" y="246.0" width="1" height="32.6" fill="#1f9e87"/>
<rect x="1127" y="247.2" width="3" height="26.4" fill="#1f9e87"/>
<rect x="1132" y="236.8" width="1" height="19.2" fill="#1f9e87"/>
<rect x="1131" y="236.8" width="3" height="10.9" fill="#1f9e87"/>
<rect x="1137" y="236.8" width="1" height="15.9" fill="#ea3f4e"/>
<rect x="1136" y="236.8" width="3" height="14.2" fill="#ea3f4e"/>
<rect x="1142" y="233.8" width="1" height="16.7" fill="#1f9e87"/>
<rect x="1141" y="233.8" width="3" height="16.7" fill="#1f9e87"/>
<rect x="1146" y="214.2" width="1" height="26.0" fill="#1f9e87"/>
<rect x="1145" y="214.2" width="3" height="20.6" fill="#1f9e87"/>
<rect x="1151" y="214.2" width="1" height="10.9" fill="#1f9e87"/>
<rect x="1150" y="214.2" width="3" height="1.0" fill="#1f9e87"/>
<rect x="1156" y="211.7" width="1" height="17.6" fill="#ea3f4e"/>
<rect x="1155" y="211.7" width="3" height="9.2" fill="#ea3f4e"/>
<rect x="1160" y="212.6" width="1" height="10.0" fill="#ea3f4e"/>
<rect x="1159" y="220.1" width="3" height="2.5" fill="#ea3f4e"/>
<rect x="1165" y="220.1" width="1" height="10.9" fill="#ea3f4e"/>
<rect x="1164" y="221.8" width="3" height="6.3" fill="#ea3f4e"/>
<rect x="1170" y="215.9" width="1" height="17.9" fill="#ea3f4e"/>
<rect x="1169" y="227.1" width="3" height="1.3" fill="#ea3f4e"/>
<rect x="1175" y="227.6" width="1" height="8.4" fill="#ea3f4e"/>
<rect x="1174" y="227.6" width="3" height="7.5" fill="#ea3f4e"/>
<rect x="1179" y="214.2" width="1" height="20.6" fill="#1f9e87"/>
<rect x="1178" y="223.8" width="3" height="11.0" fill="#1f9e87"/>
<rect x="1184" y="209.2" width="1" height="17.6" fill="#1f9e87"/>
<rect x="1183" y="209.2" width="3" height="15.6" fill="#1f9e87"/>
<rect x="1189" y="207.5" width="1" height="12.6" fill="#ea3f4e"/>
<rect x="1188" y="208.7" width="3" height="8.0" fill="#ea3f4e"/>
<rect x="1193" y="214.2" width="1" height="22.6" fill="#ea3f4e"/>
<rect x="1192" y="215.9" width="3" height="20.6" fill="#ea3f4e"/>
<rect x="1198" y="223.1" width="1" height="14.6" fill="#ea3f4e"/>
<rect x="1197" y="234.9" width="3" height="1.0" fill="#ea3f4e"/>
<rect x="1203" y="230.0" width="1" height="15.4" fill="#ea3f4e"/>
<rect x="1202" y="234.6" width="3" height="8.0" fill="#ea3f4e"/>
<rect x="1207" y="240.8" width="1" height="12.0" fill="#ea3f4e"/>
<rect x="1206" y="240.8" width="3" height="12.0" fill="#ea3f4e"/>
<rect x="1212" y="252.0" width="1" height="15.7" fill="#ea3f4e"/>
<rect x="1211" y="252.0" width="3" height="2.3" fill="#ea3f4e"/>
<rect x="1217" y="242.0" width="1" height="24.6" fill="#ea3f4e"/>
<rect x="1216" y="253.8" width="3" height="12.8" fill="#ea3f4e"/>
<rect x="1221" y="260.0" width="1" height="15.8" fill="#ea3f4e"/>
<rect x="1220" y="265.7" width="3" height="6.6" fill="#ea3f4e"/>
<rect x="1226" y="268.9" width="1" height="36.9" fill="#ea3f4e"/>
<rect x="1225" y="270.8" width="3" height="28.0" fill="#ea3f4e"/>
<rect x="1231" y="298.9" width="1" height="39.6" fill="#ea3f4e"/>
<rect x="1230" y="298.9" width="3" height="26.5" fill="#ea3f4e"/>
    </g>
  </svg>
  <svg width="1342" height="747" viewBox="0 0 1342 747">
    <!-- trend lines -->
    <defs><clipPath id="olv"><rect x="96" y="188" width="1183" height="269"/></clipPath></defs>
    <line x1="11" y1="215" x2="785.5" y2="24.3" stroke="#fff" stroke-width="3.3" stroke-linecap="round"/>
    <line x1="785.5" y1="24.3" x2="1268.5" y2="241" stroke="#fff" stroke-width="3.3" stroke-linecap="round"/>
    <g clip-path="url(#olv)">
      <line x1="11" y1="215" x2="785.5" y2="24.3" stroke="#fffbd6" stroke-width="3.45" stroke-linecap="round"/>
      <line x1="785.5" y1="24.3" x2="1268.5" y2="241" stroke="#fffbd6" stroke-width="3.45" stroke-linecap="round"/>
    </g>
    <!-- last price dotted line -->
    <line x1="0" y1="325.5" x2="1281" y2="325.5" stroke="#c22b38" stroke-width="1" stroke-dasharray="1 2" shape-rendering="crispEdges"/>
    <!-- crosshair -->
    <line x1="0" y1="94.5" x2="1259" y2="94.5" stroke="#fff" stroke-width="1" stroke-dasharray="5 6" shape-rendering="crispEdges"/>
    <line x1="1024.5" y1="0" x2="1024.5" y2="747" stroke="#fff" stroke-width="1" stroke-dasharray="5 6" stroke-dashoffset="4" shape-rendering="crispEdges"/>
  </svg>

  <!-- fib labels -->
  <div class="lab" style="top:14px;">0 (110,597)</div>
  <div class="lab" style="top:180px;">0.236 (109,301)</div>
  <div class="lab y" style="top:283px;">0.382 (108,499)</div>
  <div class="lab y" style="top:367px;">0.5 (107,851)</div>
  <div class="lab y" style="top:450px;">0.618 (107,203)</div>
  <div class="lab" style="top:568px;">0.786 (106,281)</div>
  <div class="lab" style="top:719px;">1 (105,106)</div>

  <!-- price axis -->
  <div class="ax" style="top:-7px;">110,750</div>
  <div class="ax" style="top:25px;">110,500</div>
  <div class="ax" style="top:57px;">110,250</div>
  <div class="ax" style="top:90px;">110,000</div>
  <div class="ax" style="top:122px;">109,750</div>
  <div class="ax" style="top:154px;">109,500</div>
  <div class="ax" style="top:186px;">109,250</div>
  <div class="ax" style="top:218px;">109,000</div>
  <div class="ax" style="top:250px;">108,750</div>
  <div class="ax" style="top:282px;">108,500</div>
  <div class="ax" style="top:314px;">108,250</div>
  <div class="ax" style="top:346px;">108,000</div>
  <div class="ax" style="top:378px;">107,750</div>
  <div class="ax" style="top:410px;">107,500</div>
  <div class="ax" style="top:443px;">107,250</div>
  <div class="ax" style="top:475px;">107,000</div>
  <div class="ax" style="top:507px;">106,750</div>
  <div class="ax" style="top:539px;">106,500</div>
  <div class="ax" style="top:571px;">106,250</div>
  <div class="ax" style="top:603px;">106,000</div>
  <div class="ax" style="top:635px;">105,750</div>
  <div class="ax" style="top:667px;">105,500</div>
  <div class="ax" style="top:699px;">105,250</div>
  <div class="ax" style="top:732px;">105,000</div>

  <!-- price labels -->
  <div style="position:absolute;left:1259px;top:84px;width:21px;height:21px;background:#3d3d3d;border-radius:2px;"></div>
  <svg width="1342" height="747" viewBox="0 0 1342 747">
    <circle cx="1269.5" cy="94.5" r="7.8" fill="none" stroke="#f0f0f0" stroke-width="1.3"/>
    <path d="M1265.5 94.5H1273.5M1269.5 90.5V98.5" stroke="#fff" stroke-width="1.2" fill="none"/>
  </svg>
  <div class="pl" style="top:84px;height:21px;line-height:20px;background:#3d3d3d;">110,028</div>
  <div class="pl" style="top:256px;height:17px;line-height:16px;background:#2962ff;">108,702</div>
  <div class="pl" style="top:274px;height:17px;line-height:16px;background:#2962ff;">108,564</div>
  <div class="pl" style="top:317px;height:31px;line-height:14px;padding-top:1px;background:#f23645;">108,232<br><span style="color:#fbc3c8;">04:38</span></div>
  <div class="pl" style="top:445px;height:17px;line-height:16px;background:#2962ff;">107,232</div>

  <!-- toolbar -->
  <div id="toolbar"></div>
  <svg width="400" height="40" viewBox="0 0 400 40" id="tb" style="will-change:transform;">
    <g fill="#c6c6c6">
      <rect x="55.3" y="11" width="2" height="2"/><rect x="60.7" y="11" width="2" height="2"/>
      <rect x="55.3" y="16" width="2" height="2"/><rect x="60.7" y="16" width="2" height="2"/>
      <rect x="55.3" y="21" width="2" height="2"/><rect x="60.7" y="21" width="2" height="2"/>
    </g>
    <g stroke="#111" stroke-width="1.15" fill="none">
      <!-- icon1 head and shoulders -->
      <path d="M77 21.3H103"/>
      <path d="M79.3 26.6L82.6 13.3L86.4 21.3L90.4 7.4L94.4 21.3L98.4 13.3L101.3 26.6"/>
      <!-- icon2 -->
      <path d="M117.3 22.6L124.3 15.7L131.3 22.6L138.3 15.7"/>
      <!-- icon3 -->
      <path d="M155.4 22.6L162.6 15.7L169.5 22.6L176.6 15.7"/>
      <!-- icon4 -->
      <path d="M194.3 9.6H214M194.3 19.7H212.5M194.3 25.3H214"/>
      <path d="M199.2 17.3L212.5 11.7" stroke-dasharray="1.3 2.3" stroke-width="1.4"/>
      <!-- icon5 -->
      <path d="M232.4 9.6H252M232.4 15.7H250.6M232.4 25.3H252"/>
      <path d="M236.6 17.3L250 23.3" stroke-dasharray="1.3 2.3" stroke-width="1.4"/>
      <!-- icon6 -->
      <path d="M271.3 25.3L288.6 8.7"/>
      <!-- icon7 -->
      <path d="M308.3 17.3H328.6"/>
      <!-- icon8 -->
      <rect x="347.5" y="8.7" width="17" height="16.6"/>
    </g>
    <g stroke="#111" stroke-width="1" fill="#fff">
      <circle cx="79.3" cy="26.6" r="2"/><circle cx="82.6" cy="13.3" r="2"/><circle cx="86.4" cy="21.3" r="2"/><circle cx="90.4" cy="7.4" r="2"/><circle cx="94.4" cy="21.3" r="2"/><circle cx="98.4" cy="13.3" r="2"/><circle cx="101.3" cy="26.6" r="2"/>
      <circle cx="117.3" cy="22.6" r="2"/><circle cx="124.3" cy="15.7" r="2"/><circle cx="131.3" cy="22.6" r="2"/><circle cx="138.3" cy="15.7" r="2"/>
      <circle cx="155.4" cy="22.6" r="2"/><circle cx="162.6" cy="15.7" r="2"/><circle cx="169.5" cy="22.6" r="2"/><circle cx="176.6" cy="15.7" r="2"/>
      <circle cx="194.3" cy="9.6" r="2"/><circle cx="194.3" cy="19.7" r="2"/><circle cx="194.3" cy="25.3" r="2"/><circle cx="212.5" cy="19.7" r="2"/>
      <circle cx="232.4" cy="9.6" r="2"/><circle cx="232.4" cy="15.7" r="2"/><circle cx="250.6" cy="15.7" r="2"/><circle cx="232.4" cy="25.3" r="2"/>
      <circle cx="271.3" cy="25.3" r="2"/><circle cx="288.6" cy="8.7" r="2"/>
      <circle cx="318.4" cy="17.3" r="2"/>
      <circle cx="347.5" cy="8.7" r="2"/><circle cx="364.5" cy="8.7" r="2"/><circle cx="347.5" cy="25.3" r="2"/><circle cx="364.5" cy="25.3" r="2"/>
    </g>
    <g font-family="Liberation Sans, sans-serif" font-weight="700" font-size="7.5" fill="#111" text-anchor="middle">
      <text x="124" y="10">1</text><text x="139.3" y="10">5</text>
      <text x="162.7" y="10">A</text><text x="176.8" y="10">C</text>
    </g>
  </svg>
</div>
<div id="strip"></div>
</body>
</html>
